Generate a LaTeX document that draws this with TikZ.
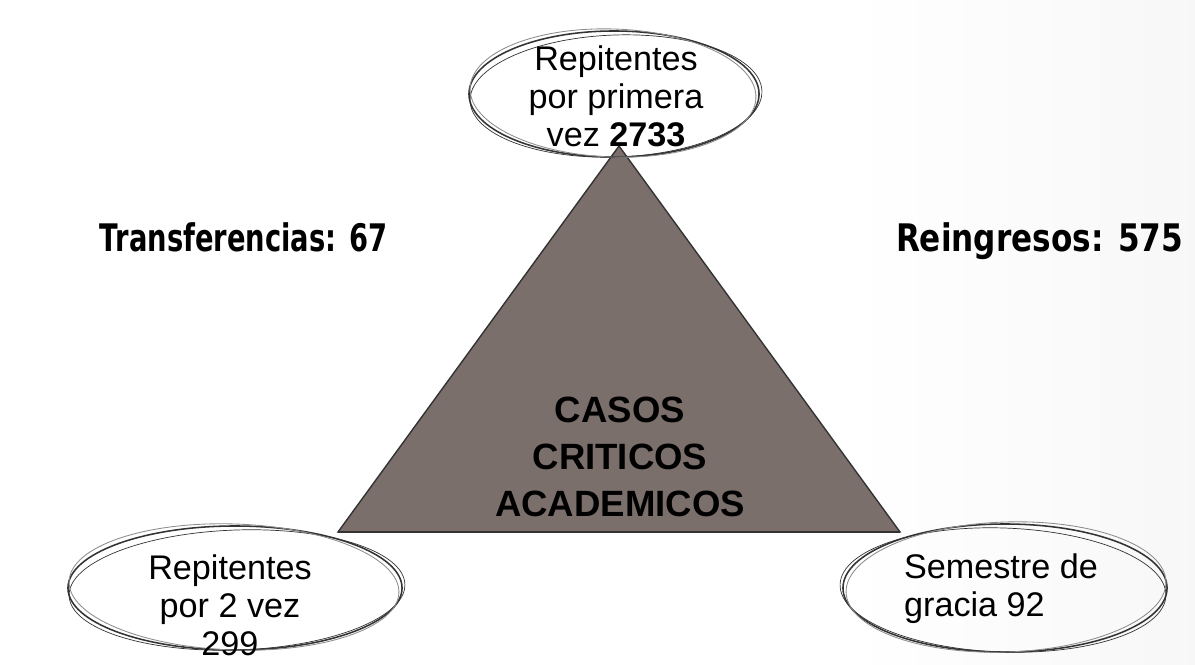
\documentclass[tikz,border=0pt]{standalone}
\usepackage{fontspec}
\setmainfont{Liberation Sans}
\newfontfamily\sidefont[FakeStretch=0.72]{DejaVu Sans}
\newfontfamily\sidefontwide[FakeStretch=0.82]{DejaVu Sans}
\usetikzlibrary{shapes.geometric}

\definecolor{trigray}{HTML}{7B6F6C}
\definecolor{inkgray}{HTML}{333333}

\tikzset{
  ring/.style={draw=inkgray, ellipse, line width=1.1pt, inner sep=0pt},
  sketch/.style={draw=inkgray, line width=0.5pt},
  sketchlight/.style={draw=black!45, line width=0.6pt},
  ringtext/.style={font=\fontsize{24.3}{27}\selectfont, align=center},
  sidetext/.style={font=\fontsize{27}{30}\selectfont\bfseries}
}

\begin{document}
\begin{tikzpicture}[x=0.025cm, y=-0.025cm]

    % page and faint shading on the right
    \useasboundingbox (0,0) rectangle (1195,664);
    \shade[left color=white, right color=black!3] (850,0) rectangle (1195,664);

    % triangle
    \coordinate (apex) at (619,146);
    \coordinate (baseL) at (338,532);
    \coordinate (baseR) at (900,532);
    \filldraw[fill=trigray, draw=inkgray, line width=1pt, line join=miter] (apex) -- (baseR) -- (baseL) -- cycle;
    \draw[inkgray, line width=1.6pt] (baseL) -- (baseR);

    \node[font=\fontsize{26}{33.5}\selectfont\bfseries, align=center] (casos) at (620,457) {CASOS\\CRITICOS\\ACADEMICOS};

    % rings
    \node[ring, minimum width=7.25cm, minimum height=3.15cm] (toprng) at (614,94) {};
    \node[ring, minimum width=8.35cm, minimum height=3.1cm] (leftrng) at (235,588) {};
    \node[ring, minimum width=8.1cm, minimum height=3.2cm] (rightrng) at (1005,588) {};

    % sketchy second strokes
    \draw[sketch] ([shift={(2,2)}]toprng.center) ellipse [x radius=146, y radius=61, rotate=2];
    \draw[sketchlight] ([shift={(-1,-1)}]toprng.center) ellipse [x radius=143, y radius=64, rotate=-2];
    \draw[sketch] ([shift={(2,2)}]leftrng.center) ellipse [x radius=168, y radius=60, rotate=2];
    \draw[sketchlight] ([shift={(-1,-1)}]leftrng.center) ellipse [x radius=165, y radius=63, rotate=-2];
    \draw[sketch] ([shift={(-2,2)}]rightrng.center) ellipse [x radius=163, y radius=62, rotate=-2];
    \draw[sketchlight] ([shift={(1,-1)}]rightrng.center) ellipse [x radius=160, y radius=65, rotate=2];

    % ring texts
    \node[ringtext] (toptext) at (616,96) {Repitentes\\por primera\\vez \textbf{2733}};
    \node[ringtext] (lefttext) at (230,605) {Repitentes\\por 2 vez\\299};
    \node[ringtext, align=left] (righttext) at (1001,589) {Semestre de\\gracia 92};

    % side labels
    \node[sidetext, font=\sidefont\fontsize{27}{30}\selectfont\bfseries, anchor=base west] (transf) at (95,251) {Transferencias: 67};
    \node[sidetext, font=\sidefontwide\fontsize{27}{30}\selectfont\bfseries, anchor=base east] (reingr) at (1188,251) {Reingresos: 575};

\end{tikzpicture}
\end{document}
